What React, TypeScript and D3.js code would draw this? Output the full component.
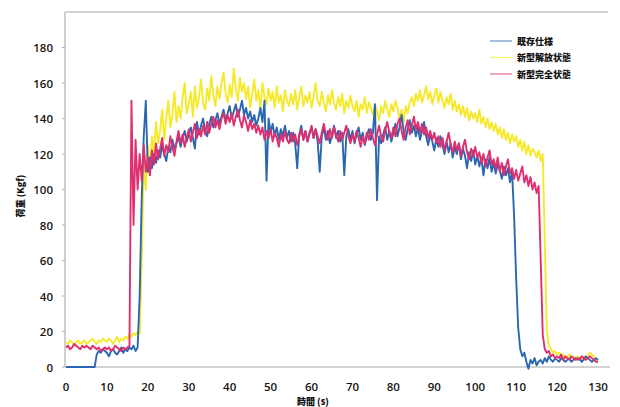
import React from "react";
import * as d3 from "d3";

// time step between samples (s)
const STEP = 0.5;

const xTicks = [0, 10, 20, 30, 40, 50, 60, 70, 80, 90, 100, 110, 120, 130];
const yTicks = [0, 20, 40, 60, 80, 100, 120, 140, 160, 180];

const seriesNames = ["既存仕様", "新型解放状態", "新型完全状態"];

// 既存仕様 (blue), one row = 5 s
const blueValues = [
  0, 0, 0, 0, 0, 0, 0, 0, 0, 0,
  0, 0, 0, 0, 0, 7, 9, 8, 10, 9,
  8, 6, 9, 10, 8, 7, 9, 11, 8, 10,
  9, 11, 10, 12, 9, 11, 40, 95, 130, 150,
  110, 118, 112, 120, 115, 122, 118, 125, 120, 116,
  124, 121, 128, 123, 126, 130, 124, 129, 133, 127,
  131, 135, 129, 123, 138, 131, 136, 140, 133, 130,
  137, 141, 135, 139, 143, 137, 141, 145, 139, 143,
  147, 140, 144, 148, 141, 145, 150, 142, 146, 140,
  144, 138, 142, 136, 140, 146, 138, 150, 105, 140,
  132, 137, 130, 135, 128, 134, 130, 136, 129, 133,
  127, 132, 126, 112, 131, 136, 128, 133, 127, 132,
  135, 129, 134, 127, 110, 130, 135, 128, 133, 126,
  131, 136, 129, 133, 127, 132, 108, 130, 134, 128,
  133, 126, 131, 135, 128, 132, 125, 130, 134, 128,
  132, 148, 94, 130, 126, 131, 135, 128, 133, 127,
  132, 137, 130, 135, 142, 133, 128, 134, 139, 132,
  136, 130, 135, 128, 133, 138, 130, 125, 131, 127,
  122, 129, 124, 130, 125, 120, 127, 121, 126, 118,
  124, 120, 126, 117, 123, 119, 112, 121, 116, 122,
  114, 119, 113, 118, 108, 117, 112, 118, 110, 115,
  109, 114, 111, 106, 113, 108, 112, 104, 110, 85,
  50, 22, 10, 6, 8, 3, -1, 4, 2, 5,
  1, 3, 4, 2, 5, 3, 6, 4, 3, 5,
  4, 3, 5, 4, 3, 4, 5, 3, 4, 5,
  4, 5, 3, 4, 6, 5, 4, 3, 4, 5,
  4,
];

// 新型解放状態 (yellow)
const yellowValues = [
  14, 13, 15, 14, 12, 14, 15, 13, 14, 15,
  13, 14, 15, 16, 14, 13, 15, 14, 16, 15,
  14, 16, 15, 13, 15, 17, 14, 16, 15, 17,
  16, 18, 17, 19, 18, 20, 19, 60, 115, 100,
  125, 112, 130, 120, 138, 126, 133, 145, 128, 140,
  150, 135, 142, 155, 138, 147, 140, 152, 160, 143,
  148, 155, 141, 158, 146, 152, 162, 149, 145, 157,
  150, 164, 153, 147, 158, 151, 160, 166, 154, 149,
  159, 152, 168, 157, 150, 163, 155, 160, 151, 158,
  146, 154, 162, 150, 156, 145, 160, 152, 148, 157,
  150, 155, 146, 158, 149, 153, 144, 156, 150, 147,
  154, 148, 156, 145, 152, 158, 147, 153, 149, 155,
  146, 152, 160, 150, 147, 155, 149, 144, 153, 148,
  156, 149, 145, 152, 147, 154, 143, 150, 146, 153,
  147, 144, 150, 141, 148, 145, 152, 143, 149, 146,
  142, 148, 144, 139, 147, 143, 150, 145, 141, 148,
  144, 150, 146, 140, 145, 138, 147, 143, 149, 152,
  147, 154, 150, 156, 149, 153, 158, 151, 155, 148,
  153, 157, 149, 155, 150, 146, 152, 148, 154, 145,
  150, 144, 148, 142, 147, 141, 146, 139, 144, 140,
  143, 138, 145, 137, 141, 135, 140, 134, 138, 133,
  137, 131, 135, 129, 134, 128, 132, 126, 131, 127,
  130, 124, 128, 122, 127, 120, 125, 119, 123, 121,
  118, 122, 116, 120, 70, 20, 12, 10, 8, 9,
  7, 8, 6, 7, 5, 6, 7, 5, 6, 5,
  6, 5, 4, 6, 5, 6, 8, 7, 6, 4,
  3,
];

// 新型完全状態 (magenta)
const magentaValues = [
  11, 12, 10, 11, 13, 12, 11, 10, 12, 11,
  12, 11, 10, 12, 11, 10, 11, 9, 10, 11,
  10, 11, 9, 10, 12, 11, 10, 9, 11, 10,
  11, 12, 150, 80, 128, 100, 120, 105, 125, 110,
  118, 108, 122, 114, 126, 117, 123, 129, 119, 125,
  121, 130, 124, 119, 127, 133, 126, 131, 124, 129,
  134, 127, 132, 137, 129, 134, 130, 136, 131, 138,
  132, 137, 141, 135, 139, 134, 140, 143, 137, 142,
  138, 143, 136, 141, 145, 139, 135, 142, 138, 133,
  139, 134, 137, 132, 136, 131, 135, 128, 133, 129,
  134, 127, 132, 129, 124, 131, 127, 133, 128, 126,
  132, 127, 131, 125, 130, 134, 128, 133, 127, 131,
  136, 129, 134, 130, 126, 132, 137, 131, 128, 134,
  129, 135, 131, 127, 133, 128, 132, 136, 130, 126,
  131, 127, 133, 129, 124, 130, 126, 132, 128, 134,
  129, 125, 131, 136, 130, 127, 134, 138, 132, 129,
  135, 130, 137, 140, 133, 128, 135, 139, 131, 136,
  141, 134, 138, 132, 137, 131, 135, 129, 133, 128,
  132, 126, 130, 124, 129, 122, 127, 132, 125, 121,
  127, 122, 126, 119, 124, 128, 121, 117, 123, 119,
  124, 118, 121, 115, 120, 113, 118, 122, 114, 117,
  112, 118, 110, 115, 108, 113, 117, 109, 112, 106,
  111, 105, 109, 113, 104, 108, 102, 107, 100, 104,
  98, 102, 60, 18, 10, 8, 9, 6, 7, 5,
  6, 5, 7, 4, 6, 5, 4, 6, 5, 4,
  5, 4, 6, 5, 4, 5, 6, 5, 4, 3,
  3,
];

const colors = {
  blue: "#2a67b1",
  yellow: "#f6e92c",
  magenta: "#e02f6e",
};

const W = 620;
const H = 407;
const plot = { left: 66, right: 598, top: 12, bottom: 367 };

export default function App() {
  const x = d3.scaleLinear().domain([0, 130]).range([plot.left, plot.right]);
  const y = d3.scaleLinear().domain([0, 200]).range([plot.bottom, plot.top]);

  const line = d3
    .line<number>()
    .x((_, i) => x(i * STEP))
    .y((v) => y(v));

  const series = [
    { name: seriesNames[1], values: yellowValues, color: colors.yellow },
    { name: seriesNames[0], values: blueValues, color: colors.blue },
    { name: seriesNames[2], values: magentaValues, color: colors.magenta },
  ];

  const legend = [
    { name: seriesNames[0], color: colors.blue },
    { name: seriesNames[1], color: colors.yellow },
    { name: seriesNames[2], color: colors.magenta },
  ];

  const tickFont = "'Open Sans', 'DejaVu Sans', sans-serif";
  const cjkFont = "'Noto Sans CJK JP', sans-serif";

  return (
    <div style={{ position: "absolute", left: 0, top: 0 }}>
      <svg width={W} height={H} viewBox={`0 0 ${W} ${H}`} style={{ display: "block", background: "#fff" }}>
        <rect x={0} y={0} width={W} height={H} fill="#ffffff" />
        {/* frame */}
        <line x1={plot.left - 1} x2={608} y1={plot.top} y2={plot.top} stroke="#a8a8a8" strokeWidth={1.2} />
        <line x1={plot.left - 1} x2={plot.left - 1} y1={plot.top} y2={plot.bottom} stroke="#b0b0b0" strokeWidth={1.2} />
        <line x1={plot.left - 1} x2={610} y1={plot.bottom} y2={plot.bottom} stroke="#a8a8a8" strokeWidth={1.2} />

        {/* y ticks */}
        {yTicks.map((t) => (
          <g key={"y" + t}>
            <line x1={plot.left - 4} x2={plot.left - 1} y1={y(t)} y2={y(t)} stroke="#b0b0b0" strokeWidth={1} />
            <text
              x={53}
              y={y(t)}
              textAnchor="end"
              dominantBaseline="central"
              fontFamily={tickFont}
              fontWeight={600}
              fontSize={11.5}
              fill="#151515"
            >
              {t}
            </text>
          </g>
        ))}

        {/* x ticks */}
        {xTicks.map((t) => (
          <text
            key={"x" + t}
            x={x(t)}
            y={386}
            textAnchor="middle"
            dominantBaseline="central"
            fontFamily={tickFont}
            fontWeight={600}
            fontSize={11.5}
            fill="#151515"
          >
            {t}
          </text>
        ))}

        {/* series */}
        {series.map((s) => (
          <path
            key={s.name}
            d={line(s.values) || ""}
            fill="none"
            stroke={s.color}
            strokeWidth={1.9}
            strokeLinejoin="round"
          />
        ))}

        {/* legend */}
        <rect x={484} y={30} width={108} height={54} fill="#ffffff" />
        {legend.map((l, i) => (
          <g key={l.name} transform={`translate(0, ${41 + i * 16.5})`}>
            <line x1={490} x2={512} y1={0} y2={0} stroke={l.color} strokeWidth={1.2} opacity={0.7} />
            <text
              x={517}
              y={0}
              dominantBaseline="central"
              fontFamily={cjkFont}
              fontWeight={900}
              fontSize={9}
              fill="#111"
            >
              {l.name}
            </text>
          </g>
        ))}

        {/* axis titles */}
        <text
          x={313}
          y={401}
          textAnchor="middle"
          dominantBaseline="central"
          fontFamily={cjkFont}
          fontWeight={900}
          fontSize={9}
          fill="#111"
        >
          時間 (s)
        </text>
        <text
          transform={`translate(20, 196) rotate(-90)`}
          textAnchor="middle"
          dominantBaseline="central"
          fontFamily={cjkFont}
          fontWeight={900}
          fontSize={9}
          fill="#111"
        >
          荷重 (Kgf)
        </text>
      </svg>
    </div>
  );
}
